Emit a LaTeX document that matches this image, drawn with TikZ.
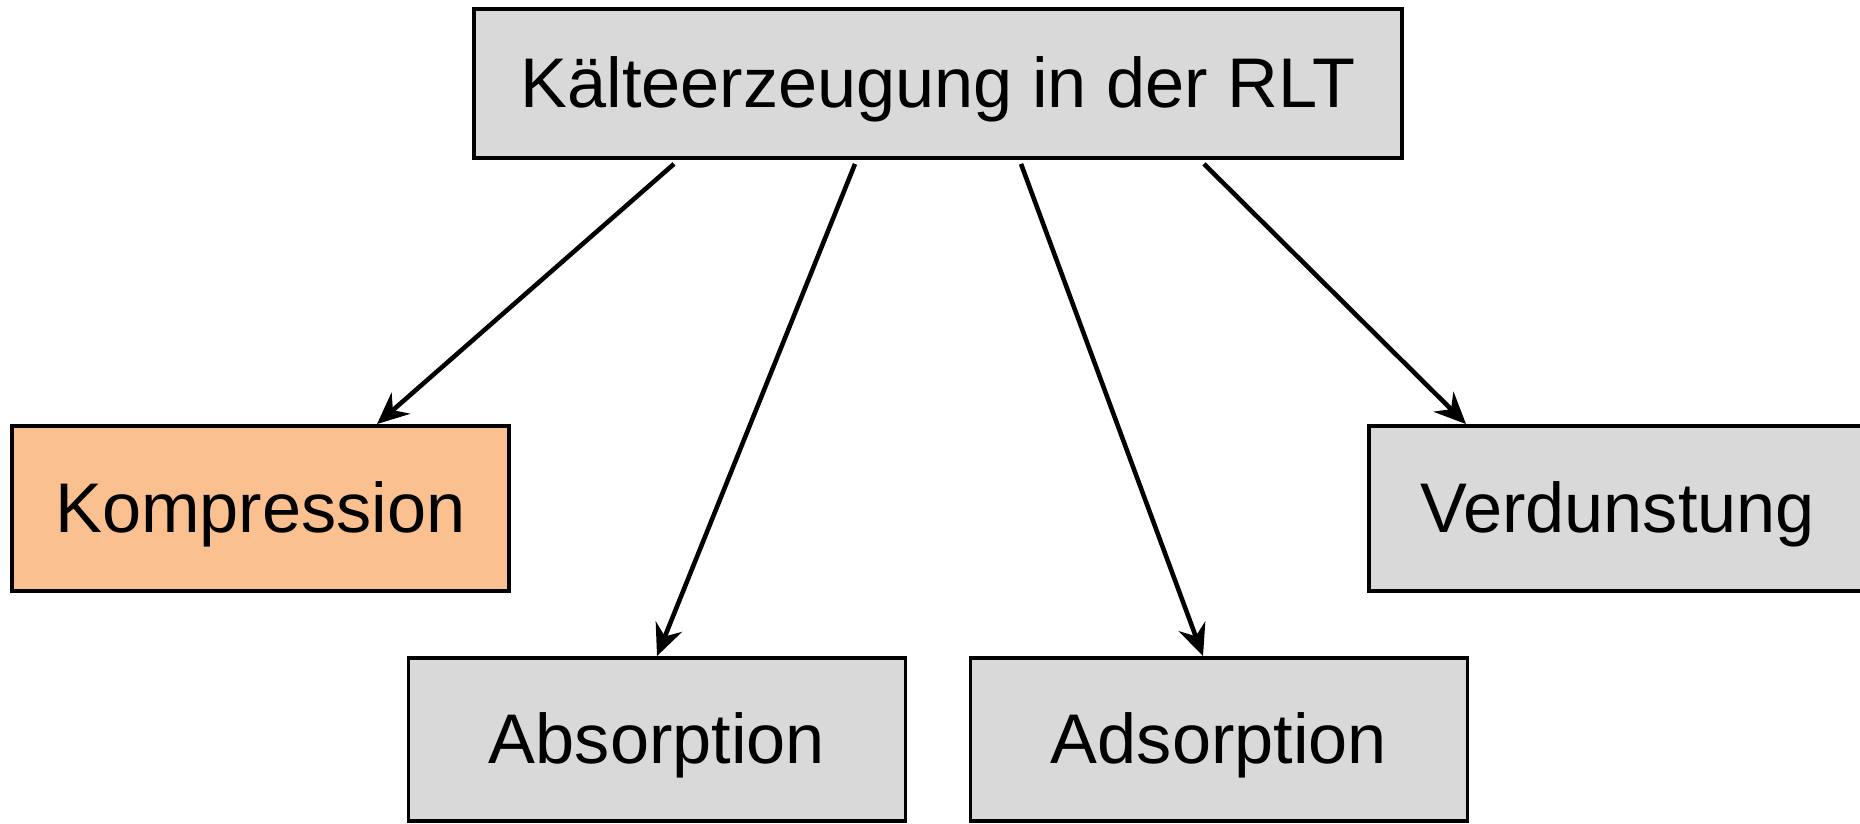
\documentclass[tikz,border=0pt]{standalone}
\usepackage{fontspec}
\setmainfont{Liberation Sans}
\usetikzlibrary{arrows.meta}
\definecolor{boxgray}{HTML}{D9D9D9}
\definecolor{boxorange}{HTML}{FAC090}
\begin{document}
\begin{tikzpicture}[
	box/.style={draw,line width=1.1pt,fill=boxgray,minimum width=4.97cm,minimum height=1.65cm,text height=16pt,text depth=2.5pt,font=\fontsize{20}{24}\selectfont},
	arr/.style={line width=1.3pt,-{Stealth[length=9pt,width=8pt,inset=3pt]}}]
	\useasboundingbox(0,0)rectangle(18.6,8.23);
	\node[box,minimum width=9.28cm,minimum height=1.49cm](rlt)at(9.38,7.395){Kälteerzeugung in der RLT};
	\node[box,fill=boxorange](komp)at(2.605,3.145){Kompression};
	\node[box,minimum height=1.63cm](absorp)at(6.57,0.835){Absorption};
	\node[box,minimum height=1.63cm](adsorp)at(12.19,0.835){Adsorption};
	\node[box](verd)at(16.175,3.145){Verdunstung};
	\draw[arr]([xshift=-2.64cm,yshift=-0.04cm]rlt.south)--([xshift=1.165cm]komp.north);
	\draw[arr]([xshift=-0.83cm,yshift=-0.04cm]rlt.south)--(absorp.north);
	\draw[arr]([xshift=0.83cm,yshift=-0.04cm]rlt.south)--([xshift=-0.16cm]adsorp.north);
	\draw[arr]([xshift=2.66cm,yshift=-0.04cm]rlt.south)--([xshift=-1.515cm]verd.north);
\end{tikzpicture}
\end{document}
